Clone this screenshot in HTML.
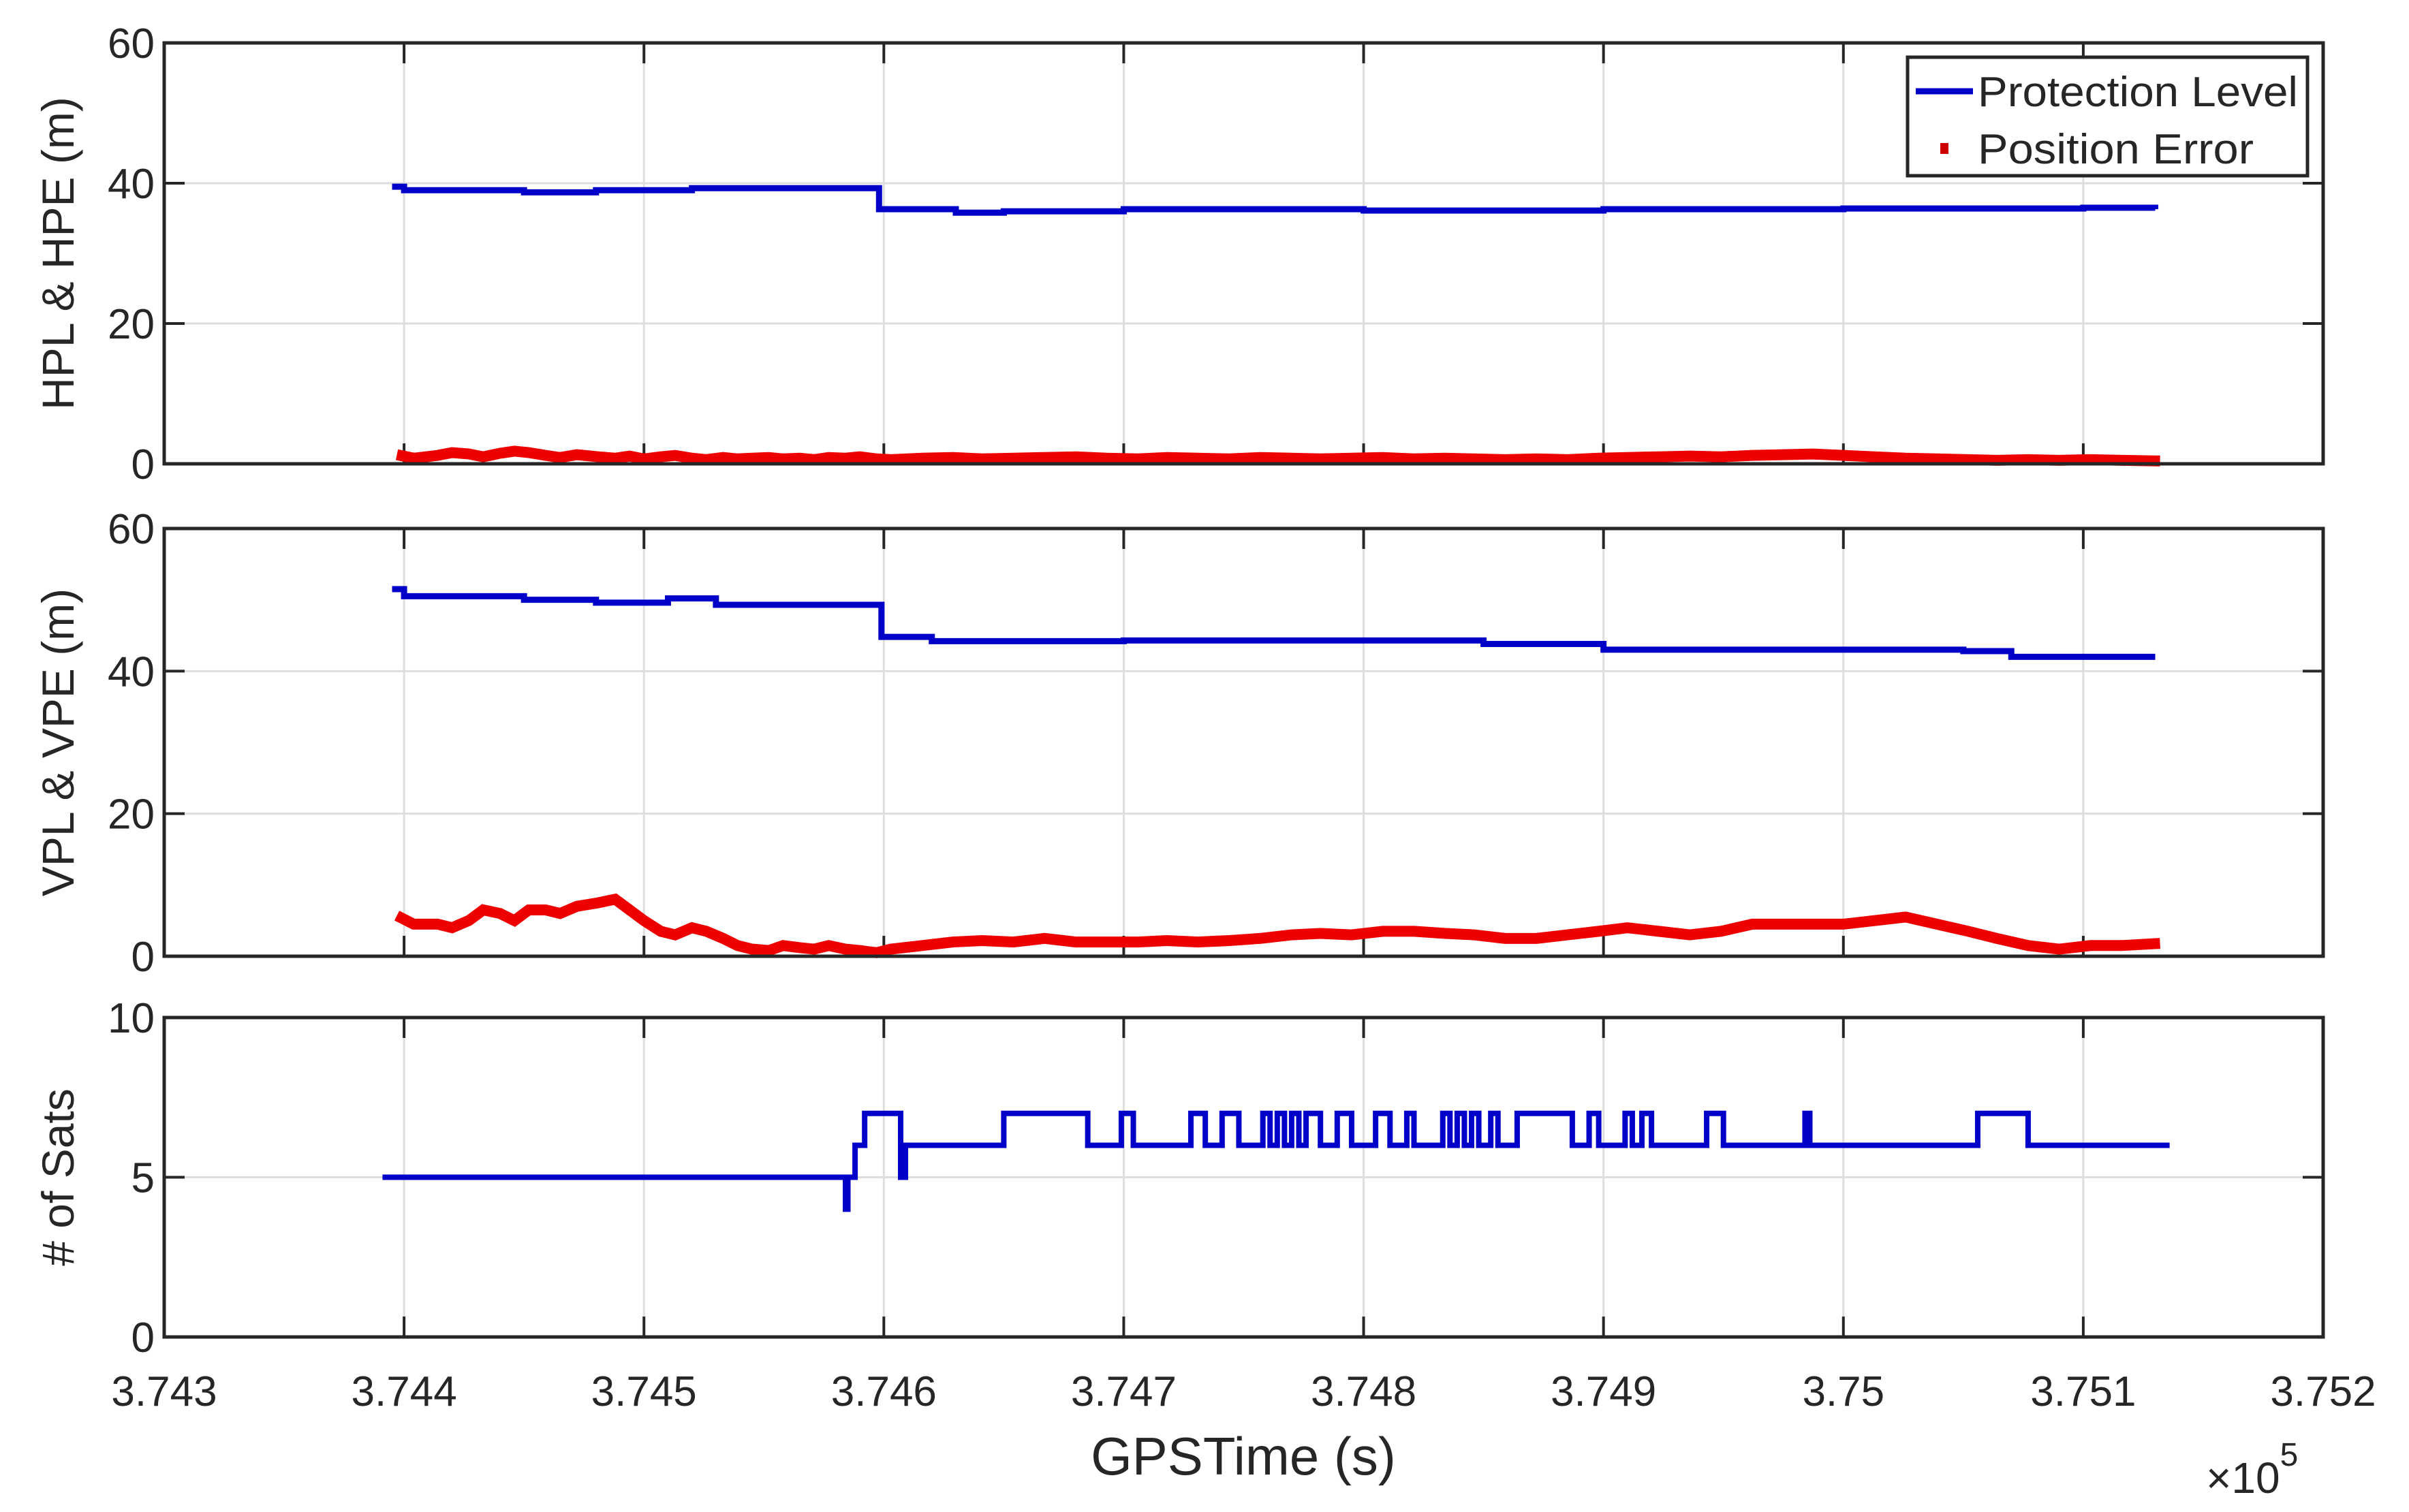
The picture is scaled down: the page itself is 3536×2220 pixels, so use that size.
<!DOCTYPE html>
<html><head><meta charset="utf-8"><style>
html,body{margin:0;padding:0;background:#fff;}
svg{display:block;font-family:"Liberation Sans",sans-serif;}
</style></head><body>
<svg id="chart" width="3536" height="2220" viewBox="0 0 3536 2220" xmlns="http://www.w3.org/2000/svg">
<rect x="0" y="0" width="3536" height="2220" fill="#fff"/>
<g id="layer"></g>
</svg>
<script>
// ---------- DATA ----------
const xTicks = [374300,374400,374500,374600,374700,374800,374900,375000,375100,375200];
const xTickLabels = ["3.743","3.744","3.745","3.746","3.747","3.748","3.749","3.75","3.751","3.752"];
const yTicksTop = [0,20,40,60];
const yTicksBot = [0,5,10];

const hplT = [374395,374400,374450,374480,374520,374560,374597,374598,374620,374630,374650,374700,374800,374900,375000,375100,375130];
const hplV = [39.5,39,38.7,39,39.3,39.3,39.3,36.3,36.3,35.8,36,36.3,36.1,36.3,36.4,36.5,36.3];

const vplT = [374395,374400,374450,374480,374510,374530,374597,374599,374620,374700,374800,374850,374890,374900,375000,375050,375070,375130];
const vplV = [51.5,50.5,50,49.6,50.2,49.3,49.3,44.8,44.2,44.3,44.3,43.8,43.8,43,43,42.8,42,42];

const peT = [374397,374404,374414,374420,374427,374433,374440,374446,374452,374459,374465,374472,374481,374488,374494,374500,374507,374513,374520,374526,374533,374539,374545,374552,374558,374565,374571,374577,374584,374590,374597,374603,374616,374629,374641,374654,374667,374680,374693,374706,374718,374731,374744,374757,374770,374782,374795,374808,374821,374834,374846,374859,374872,374885,374898,374910,374923,374936,374949,374962,374975,374987,375000,375013,375026,375039,375052,375064,375077,375090,375103,375116,375132];
const vpeV = [5.7,4.5,4.5,4,5,6.5,6,5,6.5,6.5,6,7,7.5,8,6.5,5,3.5,3,4,3.5,2.5,1.5,1,0.8,1.5,1.2,1,1.5,1,0.8,0.5,1,1.5,2,2.2,2,2.5,2,2,2,2.2,2,2.2,2.5,3,3.2,3,3.5,3.5,3.2,3,2.5,2.5,3,3.5,4,3.5,3,3.5,4.5,4.5,4.5,4.5,5,5.5,4.5,3.5,2.5,1.5,1,1.5,1.5,1.8];
const hpeV = [1.3,0.8,1.2,1.6,1.4,1.0,1.5,1.8,1.6,1.2,0.9,1.3,1.0,0.8,1.1,0.7,1.0,1.2,0.8,0.6,0.9,0.7,0.8,0.9,0.7,0.8,0.6,0.9,0.8,1.0,0.7,0.6,0.8,0.9,0.7,0.8,0.9,1.0,0.8,0.7,0.9,0.8,0.7,0.9,0.8,0.7,0.8,0.9,0.7,0.8,0.7,0.6,0.7,0.6,0.8,0.9,1.0,1.1,1.0,1.2,1.3,1.4,1.2,1.0,0.8,0.7,0.6,0.5,0.6,0.5,0.6,0.5,0.4];

const satT = [374391,374584,374585,374588,374592,374607,374609,
  374650,374685,374699,374704,374728,374734,374741,374748,374758,374761,374764,374767,374770,374773,374776,374782,
  374789,374795,374805,374811,374818,374821,374833,374836,374839,374842,374845,374848,374853,374856,374864,374887,
  374894,374898,374909,374912,374916,374920,374943,374950,374984,374986,375056,375077,375136];
const satN = [5,4,5,6,7,5,6,
  7,6,7,6,7,6,7,6,7,6,7,6,7,6,7,6,
  7,6,7,6,7,6,7,6,7,6,7,6,7,6,7,6,
  7,6,7,6,7,6,7,6,7,6,7,6,6];

// ---------- LAYOUT ----------
const X0=241, X1=3410, T0=374300, T1=375200;
const panels=[
 {top:63, bot:681, max:60, ticks:yTicksTop, label:"HPL & HPE (m)", name:"hpl-panel"},
 {top:776, bot:1404, max:60, ticks:yTicksTop, label:"VPL & VPE (m)", name:"vpl-panel"},
 {top:1494, bot:1963, max:10, ticks:yTicksBot, label:"# of Sats", name:"sats-panel"}
];
const xs = t => X0 + (t-T0)/(T1-T0)*(X1-X0);
const ys = (p,v) => p.bot - v/p.max*(p.bot-p.top);
const NS="http://www.w3.org/2000/svg";
const layer=document.getElementById('layer');
function mk(tag,attrs,parent){const e=document.createElementNS(NS,tag);for(const k in attrs)e.setAttribute(k,attrs[k]);(parent||layer).appendChild(e);return e;}

panels.forEach((p,pi)=>{
  const g=mk('g',{});
  
  
  xTicks.forEach(t=>{const l=mk('line',{x1:xs(t),x2:xs(t),y1:p.top,y2:p.bot,stroke:'#dedede','stroke-width':3},g);
    
    });
  p.ticks.forEach(v=>{const l=mk('line',{x1:X0,x2:X1,y1:ys(p,v),y2:ys(p,v),stroke:'#dedede','stroke-width':3},g);
    
    });
  xTicks.forEach(t=>{mk('line',{x1:xs(t),x2:xs(t),y1:p.top,y2:p.top+30,stroke:'#262626','stroke-width':4},g);
    mk('line',{x1:xs(t),x2:xs(t),y1:p.bot,y2:p.bot-30,stroke:'#262626','stroke-width':4},g);});
  p.ticks.forEach(v=>{mk('line',{x1:X0,x2:X0+30,y1:ys(p,v),y2:ys(p,v),stroke:'#262626','stroke-width':4},g);
    mk('line',{x1:X1,x2:X1-30,y1:ys(p,v),y2:ys(p,v),stroke:'#262626','stroke-width':4},g);
    const tx=mk('text',{x:X0-14,y:ys(p,v)+22,'text-anchor':'end','font-size':62,fill:'#262626'},g);
    tx.textContent=v;
    
    });
  const lab=mk('text',{x:0,y:0,'text-anchor':'middle','font-size':66,fill:'#262626',transform:`translate(108 ${(p.top+p.bot)/2}) rotate(-90)`},g);
  lab.textContent=p.label;
  
  
  p.g=g;
});

function polyline(p,T,V,color,w,name,step){
  let pts=[];
  for(let i=0;i<T.length;i++){
    if(step && i>0) pts.push(xs(T[i])+','+ys(p,V[i-1]));
    pts.push(xs(T[i])+','+ys(p,V[i]));
  }
  const l=mk('polyline',{points:pts.join(' '),fill:'none',stroke:color,'stroke-width':w,'stroke-linejoin':'miter'},p.g);
  
  
  return l;
}
polyline(panels[0],peT,hpeV,'#ee0000',16,'hpe-series');
polyline(panels[0],hplT,hplV,'#0000c8',9,'hpl-series',true);
polyline(panels[1],peT,vpeV,'#ee0000',16,'vpe-series');
polyline(panels[1],vplT,vplV,'#0000c8',9,'vpl-series',true);
polyline(panels[2],satT,satN,'#0000c8',8,'sats-series',true);

panels.forEach(p=>{
  const r=mk('rect',{x:X0,y:p.top,width:X1-X0,height:p.bot-p.top,fill:'none',stroke:'#262626','stroke-width':5},p.g);
  
  
});
xTicks.forEach((t,i)=>{
  const tx=mk('text',{x:xs(t),y:2064,'text-anchor':'middle','font-size':62,fill:'#262626'});
  tx.textContent=xTickLabels[i];
  
  
});
</script>
<svg style="position:absolute;left:0;top:0" width="3536" height="2220">
<text x="1825" y="2165" text-anchor="middle" font-size="78" fill="#262626" font-family="Liberation Sans, sans-serif">GPSTime (s)</text>
<text x="3238" y="2192" font-size="64" fill="#262626" font-family="Liberation Sans, sans-serif">×10<tspan dy="-40" font-size="48">5</tspan></text>
<g>
<rect x="2800" y="84" width="587" height="174" fill="#fff" stroke="#262626" stroke-width="5"/>
<line x1="2812" y1="134" x2="2896" y2="134" stroke="#0000c8" stroke-width="9"/>
<text x="2903" y="156" font-size="62" fill="#262626" font-family="Liberation Sans, sans-serif" textLength="470" lengthAdjust="spacingAndGlyphs">Protection Level</text>
<rect x="2848" y="210" width="12" height="16" fill="#cc0000"/>
<text x="2903" y="240" font-size="62" fill="#262626" font-family="Liberation Sans, sans-serif" textLength="405" lengthAdjust="spacingAndGlyphs">Position Error</text>
</g>
</svg>
</body></html>
